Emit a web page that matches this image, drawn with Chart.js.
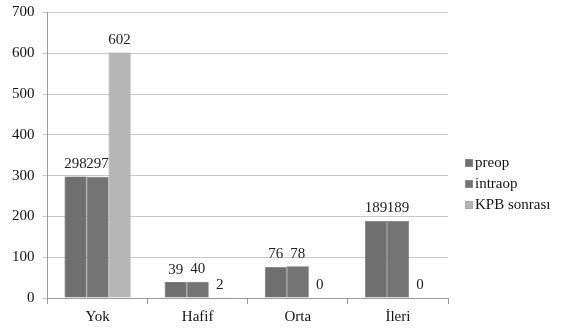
<!DOCTYPE html>
<html>
<head>
<meta charset="utf-8">
<script src="https://cdn.jsdelivr.net/npm/chart.js@4"></script>
<style>
  html, body { margin: 0; padding: 0; background: #fff; }
  #wrap { width: 564px; height: 332px; }
</style>
</head>
<body>
<div id="wrap"><canvas id="c" width="564" height="332"></canvas></div>
<script>
const categories = ['Yok', 'Hafif', 'Orta', 'İleri'];
const preop = [298, 39, 76, 189];
const intraop = [297, 40, 78, 189];
const kpbSonrasi = [602, 2, 0, 0];
const yTicks = [0, 100, 200, 300, 400, 500, 600, 700];
const seriesNames = ['preop', 'intraop', 'KPB sonrası'];
const seriesColors = ['#6f6f6f', '#747474', '#b6b6b6'];
const seriesLights = ['#9a9a9a', '#9e9e9e', '#d4d4d4'];

const SERIF = "'Liberation Serif', 'Times New Roman', 'DejaVu Serif', serif";

// horizontal shading so each bar looks slightly rounded
function barGradient(ctx, i) {
  const base = seriesColors[i], light = seriesLights[i];
  const el = ctx.element;
  const chart = ctx.chart;
  if (!el || !chart.chartArea) return base;
  const props = el.getProps(['x', 'width'], true);
  const x0 = props.x - props.width / 2, x1 = props.x + props.width / 2;
  if (!isFinite(x0) || !isFinite(x1) || x1 <= x0) return base;
  const g = chart.ctx.createLinearGradient(x0, 0, x1, 0);
  g.addColorStop(0, light);
  g.addColorStop(0.12, base);
  g.addColorStop(0.85, base);
  g.addColorStop(1, light);
  return g;
}

// value printed above each bar
const valueLabels = {
  id: 'valueLabels',
  afterDatasetsDraw(chart) {
    const ctx = chart.ctx;
    ctx.save();
    ctx.font = '15px ' + SERIF;
    ctx.fillStyle = '#222';
    ctx.textAlign = 'center';
    ctx.textBaseline = 'bottom';
    chart.data.datasets.forEach((ds, i) => {
      const meta = chart.getDatasetMeta(i);
      meta.data.forEach((bar, j) => {
        ctx.fillText(String(ds.data[j]), bar.x, bar.y - 5);
      });
    });
    ctx.restore();
  }
};

// legend on the right, slightly below the middle
const sideLegend = {
  id: 'sideLegend',
  afterDraw(chart) {
    const ctx = chart.ctx;
    ctx.save();
    ctx.font = '15px ' + SERIF;
    ctx.textAlign = 'left';
    ctx.textBaseline = 'middle';
    const x = chart.chartArea.right + 17;
    const y0 = 163, step = 21;
    seriesNames.forEach((name, i) => {
      const y = y0 + i * step;
      ctx.fillStyle = seriesColors[i];
      ctx.fillRect(x, y - 4, 8, 8);
      ctx.strokeStyle = '#999';
      ctx.lineWidth = 0.5;
      ctx.strokeRect(x + 0.25, y - 3.75, 7.5, 7.5);
      ctx.fillStyle = '#111';
      ctx.fillText(name, x + 10, y);
    });
    ctx.restore();
  }
};

function build() {
  new Chart(document.getElementById('c'), {
    type: 'bar',
    data: {
      labels: categories,
      datasets: [
        { label: seriesNames[0], data: preop,
          backgroundColor: c => barGradient(c, 0), borderColor: '#5a5a5a', borderWidth: 0.6 },
        { label: seriesNames[1], data: intraop,
          backgroundColor: c => barGradient(c, 1), borderColor: '#5a5a5a', borderWidth: 0.6 },
        { label: seriesNames[2], data: kpbSonrasi,
          backgroundColor: c => barGradient(c, 2), borderColor: '#8a8a8a', borderWidth: 0.6 }
      ]
    },
    options: {
      responsive: false,
      animation: false,
      layout: { padding: { top: 0, right: 116, bottom: 2, left: 4 } },
      datasets: { bar: { categoryPercentage: 0.66, barPercentage: 1.0 } },
      scales: {
        x: {
          grid: { display: true, drawOnChartArea: false, drawTicks: true, tickLength: 6, color: '#999', offset: true },
          border: { color: '#999' },
          ticks: { color: '#111', font: { family: SERIF, size: 15 }, padding: 4 }
        },
        y: {
          min: 0, max: 700,
          afterBuildTicks: axis => { axis.ticks = yTicks.map(v => ({ value: v })); },
          grid: { color: '#c8c8c8', tickLength: 5, lineWidth: 1 },
          border: { color: '#999' },
          ticks: { color: '#111', font: { family: SERIF, size: 15, lineHeight: 0.6 }, padding: 8 }
        }
      },
      plugins: {
        legend: { display: false },
        tooltip: { enabled: false }
      }
    },
    plugins: [valueLabels, sideLegend]
  });
}

if (document.fonts && document.fonts.load) {
  document.fonts.load('15px "Liberation Serif"').then(build, build);
} else {
  build();
}
</script>
</body>
</html>
